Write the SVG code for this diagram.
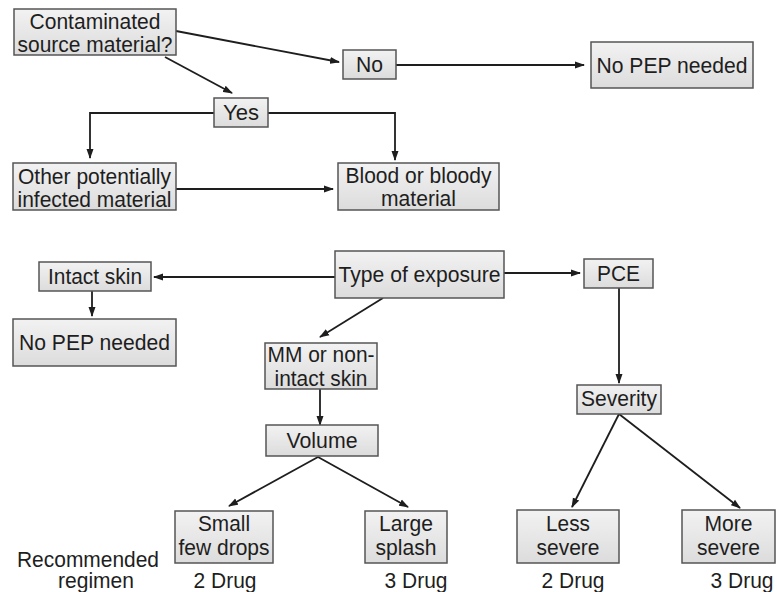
<svg xmlns="http://www.w3.org/2000/svg" width="777" height="592" viewBox="0 0 777 592">
  <style>
    .box { fill: url(#boxFill); stroke: #555555; stroke-width: 1.5; }
    text { font-family: "Liberation Sans", Arial, sans-serif; font-size: 22px; fill: #1e1e1e; text-anchor: middle; }
    .edge { fill: none; stroke: #1e1e1e; stroke-width: 1.8; }
    .arrow { marker-end: url(#head); }
  </style>
  <defs>
    <linearGradient id="boxFill" x1="0" y1="0" x2="0" y2="1">
      <stop offset="0" stop-color="#f2f2f2"/>
      <stop offset="1" stop-color="#dcdcdc"/>
    </linearGradient>
    <marker id="head" markerWidth="10" markerHeight="8" refX="9" refY="4" orient="auto" markerUnits="userSpaceOnUse">
      <path d="M0,0.5 L10,4 L0,7.5 Z" fill="#1e1e1e"/>
    </marker>
  </defs>

  <rect width="777" height="592" fill="#ffffff"/>

  <!-- connectors -->
  <g id="connectors">
    <line class="edge arrow" x1="176" y1="31" x2="339" y2="62"/>
    <line class="edge arrow" x1="165" y1="57" x2="232" y2="93"/>
    <line class="edge arrow" x1="396" y1="65" x2="584" y2="65"/>
    <polyline class="edge arrow" points="214,113 90,113 90,158"/>
    <polyline class="edge arrow" points="268,113 395,113 395,160"/>
    <line class="edge arrow" x1="176" y1="189" x2="333" y2="189"/>
    <line class="edge arrow" x1="335" y1="277" x2="154" y2="277"/>
    <line class="edge arrow" x1="92" y1="291" x2="92" y2="316"/>
    <line class="edge arrow" x1="504" y1="273" x2="580" y2="273"/>
    <line class="edge arrow" x1="383" y1="298" x2="320" y2="337"/>
    <line class="edge arrow" x1="320" y1="389" x2="320" y2="425"/>
    <line class="edge arrow" x1="619" y1="288" x2="619" y2="383"/>
    <line class="edge arrow" x1="318" y1="457" x2="229" y2="506"/>
    <line class="edge arrow" x1="318" y1="457" x2="408" y2="507"/>
    <line class="edge arrow" x1="619" y1="414" x2="572" y2="507"/>
    <line class="edge arrow" x1="619" y1="414" x2="740" y2="508"/>
  </g>

  <g id="contaminated">
    <rect class="box" x="14" y="9" width="162" height="46"/>
    <text x="95" y="29" textLength="131" lengthAdjust="spacingAndGlyphs">Contaminated</text>
    <text x="95" y="52" textLength="155" lengthAdjust="spacingAndGlyphs">source material?</text>
  </g>
  <g id="no">
    <rect class="box" x="343" y="50" width="53" height="29"/>
    <text x="369.5" y="72" textLength="27" lengthAdjust="spacingAndGlyphs">No</text>
  </g>
  <g id="no-pep-top">
    <rect class="box" x="591" y="42" width="162" height="46"/>
    <text x="672" y="73" textLength="151" lengthAdjust="spacingAndGlyphs">No PEP needed</text>
  </g>
  <g id="yes">
    <rect class="box" x="214" y="98" width="54" height="29"/>
    <text x="241" y="120" textLength="36" lengthAdjust="spacingAndGlyphs">Yes</text>
  </g>
  <g id="other-material">
    <rect class="box" x="13" y="163" width="163" height="47"/>
    <text x="94.5" y="184" textLength="153" lengthAdjust="spacingAndGlyphs">Other potentially</text>
    <text x="94.5" y="207" textLength="154" lengthAdjust="spacingAndGlyphs">infected material</text>
  </g>
  <g id="blood">
    <rect class="box" x="338" y="163" width="161" height="47"/>
    <text x="418.5" y="183" textLength="146" lengthAdjust="spacingAndGlyphs">Blood or bloody</text>
    <text x="418.5" y="206" textLength="75" lengthAdjust="spacingAndGlyphs">material</text>
  </g>
  <g id="type-of-exposure">
    <rect class="box" x="335" y="251" width="169" height="47"/>
    <text x="419.5" y="282" textLength="162" lengthAdjust="spacingAndGlyphs">Type of exposure</text>
  </g>
  <g id="intact-skin">
    <rect class="box" x="39" y="262" width="112" height="29"/>
    <text x="95" y="284" textLength="94" lengthAdjust="spacingAndGlyphs">Intact skin</text>
  </g>
  <g id="no-pep-bottom">
    <rect class="box" x="13" y="319" width="163" height="47"/>
    <text x="94.5" y="350" textLength="151" lengthAdjust="spacingAndGlyphs">No PEP needed</text>
  </g>
  <g id="pce">
    <rect class="box" x="584" y="259" width="69" height="29"/>
    <text x="618.5" y="281" textLength="43" lengthAdjust="spacingAndGlyphs">PCE</text>
  </g>
  <g id="mm-nonintact">
    <rect class="box" x="265" y="343" width="112" height="46"/>
    <text x="321" y="362" textLength="107" lengthAdjust="spacingAndGlyphs">MM or non-</text>
    <text x="321" y="386" textLength="93" lengthAdjust="spacingAndGlyphs">intact skin</text>
  </g>
  <g id="volume">
    <rect class="box" x="266" y="425" width="112" height="31"/>
    <text x="322" y="448" textLength="71" lengthAdjust="spacingAndGlyphs">Volume</text>
  </g>
  <g id="severity">
    <rect class="box" x="577" y="385" width="84" height="29"/>
    <text x="619" y="406" textLength="76" lengthAdjust="spacingAndGlyphs">Severity</text>
  </g>
  <g id="small">
    <rect class="box" x="175" y="511" width="98" height="52"/>
    <text x="224" y="531" textLength="52" lengthAdjust="spacingAndGlyphs">Small</text>
    <text x="224" y="555" textLength="91" lengthAdjust="spacingAndGlyphs">few drops</text>
  </g>
  <g id="large">
    <rect class="box" x="365" y="511" width="82" height="52"/>
    <text x="406" y="531" textLength="54" lengthAdjust="spacingAndGlyphs">Large</text>
    <text x="406" y="555" textLength="61" lengthAdjust="spacingAndGlyphs">splash</text>
  </g>
  <g id="less-severe">
    <rect class="box" x="517" y="510" width="102" height="53"/>
    <text x="568" y="531" textLength="44" lengthAdjust="spacingAndGlyphs">Less</text>
    <text x="568" y="555" textLength="63" lengthAdjust="spacingAndGlyphs">severe</text>
  </g>
  <g id="more-severe">
    <rect class="box" x="682" y="510" width="93" height="53"/>
    <text x="728.5" y="531" textLength="48" lengthAdjust="spacingAndGlyphs">More</text>
    <text x="728.5" y="555" textLength="63" lengthAdjust="spacingAndGlyphs">severe</text>
  </g>

  <!-- regimen row -->
  <g id="regimen">
    <text x="88" y="567" textLength="142" lengthAdjust="spacingAndGlyphs">Recommended</text>
    <text x="96" y="588" textLength="76" lengthAdjust="spacingAndGlyphs">regimen</text>
    <text x="225" y="588" textLength="63" lengthAdjust="spacingAndGlyphs">2 Drug</text>
    <text x="416" y="588" textLength="63" lengthAdjust="spacingAndGlyphs">3 Drug</text>
    <text x="573" y="588" textLength="63" lengthAdjust="spacingAndGlyphs">2 Drug</text>
    <text x="742" y="588" textLength="63" lengthAdjust="spacingAndGlyphs">3 Drug</text>
  </g>
</svg>
